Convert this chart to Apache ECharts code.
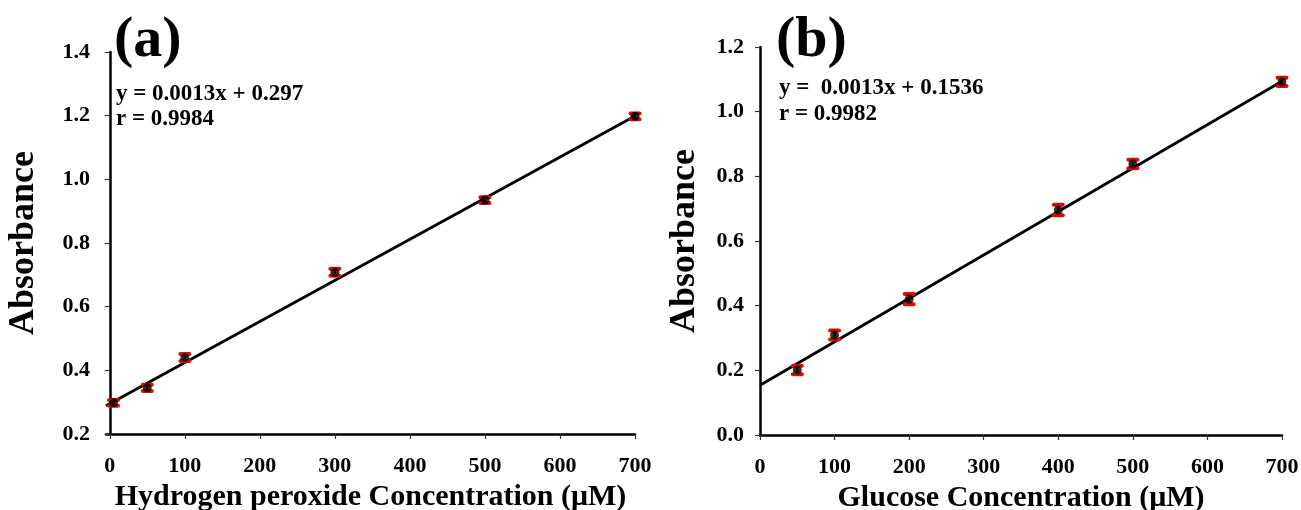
<!DOCTYPE html>
<html>
<head>
<meta charset="utf-8">
<script src="https://cdn.jsdelivr.net/npm/echarts@6/dist/echarts.min.js"></script>
<style>html,body{margin:0;padding:0;background:#fff;}#c{width:1301px;height:510px;}</style>
</head>
<body>
<div id="c"></div>
<script>
// ---- data ----
var hpX = [5, 50, 100, 300, 500, 700];
var hpY = [0.298, 0.345, 0.440, 0.708, 0.935, 1.198];
var hpErr = [0.009, 0.010, 0.011, 0.011, 0.009, 0.009];
var hpFitX = [-5, 700];
var hpFitY = [0.289, 1.199];

var gX = [50, 100, 200, 400, 500, 700];
var gY = [0.201, 0.309, 0.420, 0.696, 0.838, 1.092];
var gErr = [0.013, 0.014, 0.016, 0.016, 0.013, 0.013];
var gFitX = [0, 700];
var gFitY = [0.154, 1.094];

var xTicks = [0, 100, 200, 300, 400, 500, 600, 700];
var labelA = '(a)', labelB = '(b)';
var eqA = ['y = 0.0013x + 0.297', 'r = 0.9984'];
var eqB = ['y =  0.0013x + 0.1536', 'r = 0.9982'];
var xNameA = 'Hydrogen peroxide Concentration (\u03bcM)';
var xNameB = 'Glucose Concentration (\u03bcM)';
var yName = 'Absorbance';

// ---- styles ----
var FONT = '"Liberation Serif", "Times New Roman", serif';
var RED = '#d80c0c';

function zip(a, b, c) { return a.map(function (v, i) { return c ? [v, b[i], c[i]] : [v, b[i]]; }); }

function errRender(params, api) {
  var x = api.value(0), y = api.value(1), e = api.value(2);
  var hi = api.coord([x, y + e]), lo = api.coord([x, y - e]);
  var hw = 4.5;
  var cap = { stroke: RED, lineWidth: 4, lineCap: 'round' };
  return { type: 'group', children: [
    { type: 'line', shape: { x1: hi[0], y1: hi[1], x2: lo[0], y2: lo[1] }, style: { stroke: RED, lineWidth: 2.5 } },
    { type: 'line', shape: { x1: hi[0] - hw, y1: hi[1], x2: hi[0] + hw, y2: hi[1] }, style: cap },
    { type: 'line', shape: { x1: lo[0] - hw, y1: lo[1], x2: lo[0] + hw, y2: lo[1] }, style: cap }
  ] };
}

var tickLabel = { color: '#000', fontFamily: FONT, fontWeight: 'bold', fontSize: 22 };
var axisLine = { show: true, lineStyle: { color: '#000', width: 2.5 } };
var axisTick = { show: true, length: 5, lineStyle: { color: '#333', width: 1.2 } };
var nameStyle = { color: '#000', fontFamily: FONT, fontWeight: 'bold', fontSize: 30 };
var yNameStyle = { color: '#000', fontFamily: FONT, fontWeight: 'bold', fontSize: 36 };

function xAxis(idx, min, name, useCustom) {
  var a = {
    type: 'value', gridIndex: idx, min: min, max: 700,
    name: name, nameLocation: 'middle', nameGap: 39, nameTextStyle: nameStyle,
    axisLine: axisLine, splitLine: { show: false },
    axisTick: Object.assign({}, axisTick),
    axisLabel: Object.assign({ margin: 21 }, tickLabel)
  };
  if (useCustom) {
    a.axisTick.customValues = xTicks;
    a.axisLabel.customValues = xTicks;
  } else {
    a.interval = 100;
  }
  return a;
}
function yAxis(idx, min, max, gap) {
  return {
    type: 'value', gridIndex: idx, min: min, max: max, interval: 0.2,
    name: yName, nameLocation: 'middle', nameGap: gap, nameTextStyle: yNameStyle,
    axisLine: axisLine, axisTick: axisTick, splitLine: { show: false },
    axisLabel: Object.assign({ margin: 16, formatter: function (v) { return v.toFixed(1); } }, tickLabel)
  };
}

function seriesFor(idx, xs, ys, es, fx, fy) {
  return [
    { type: 'line', xAxisIndex: idx, yAxisIndex: idx, data: zip(fx, fy), symbol: 'none',
      lineStyle: { color: '#000', width: 2.8 }, z: 2, silent: true },
    { type: 'custom', xAxisIndex: idx, yAxisIndex: idx, data: zip(xs, ys, es), renderItem: errRender,
      encode: { x: 0, y: 1 }, z: 3, silent: true },
    { type: 'scatter', xAxisIndex: idx, yAxisIndex: idx, data: zip(xs, ys), symbol: 'circle', symbolSize: 9,
      itemStyle: { color: '#000' }, z: 4, silent: true }
  ];
}

function txt(x, y, s, size) {
  return { type: 'text', x: x, y: y, style: { text: s, font: 'bold ' + size + 'px ' + FONT, fill: '#000', align: 'left', verticalAlign: 'middle' } };
}

var chart = echarts.init(document.getElementById('c'), null, { renderer: 'canvas' });
chart.setOption({
  backgroundColor: '#fff',
  animation: false,
  grid: [
    { left: 106, right: 666, top: 52, bottom: 76, containLabel: false, outerBoundsMode: 'none' },
    { left: 760, right: 19, top: 47, bottom: 75, containLabel: false, outerBoundsMode: 'none' }
  ],
  xAxis: [xAxis(0, -5, xNameA, true), xAxis(1, 0, xNameB, false)],
  yAxis: [yAxis(0, 0.2, 1.4, 64), yAxis(1, 0, 1.2, 57)],
  series: seriesFor(0, hpX, hpY, hpErr, hpFitX, hpFitY).concat(seriesFor(1, gX, gY, gErr, gFitX, gFitY)),
  graphic: [
    txt(114, 41, labelA, 58),
    txt(116, 94, eqA[0], 23),
    txt(116, 119, eqA[1], 23),
    txt(776, 41, labelB, 58),
    txt(779, 88, eqB[0], 23),
    txt(779, 114, eqB[1], 23)
  ]
});
</script>
</body>
</html>
